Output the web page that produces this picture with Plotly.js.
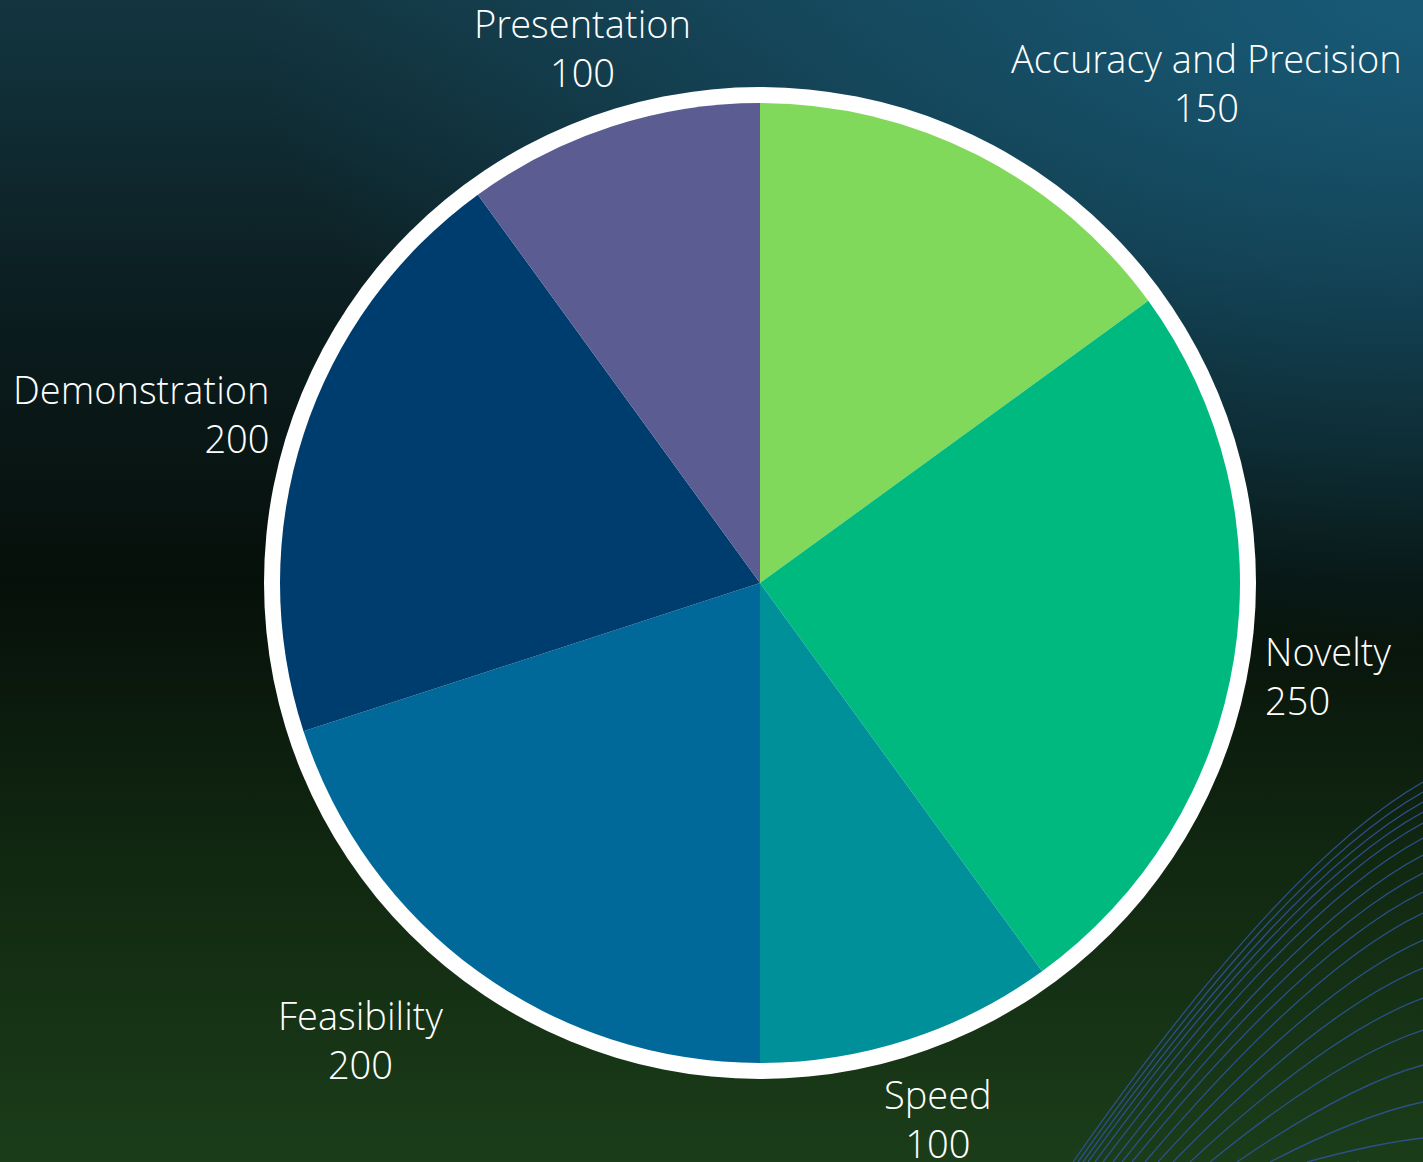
<!DOCTYPE html>
<html>
<head>
<meta charset="utf-8">
<script src="https://cdn.plot.ly/plotly-3.0.1.min.js"></script>
<style>
  html, body { margin: 0; padding: 0; width: 1423px; height: 1162px; overflow: hidden; }
  body {
    background:
      radial-gradient(ellipse 110% 75% at 100% 0%, rgba(24,92,122,0.95) 0%, rgba(24,92,122,0.55) 35%, rgba(24,92,122,0) 75%),
      linear-gradient(to bottom, #133540 0%, #0b1c1e 28%, #06100a 50%, #102610 72%, #1b3d19 100%);
  }
  #deco { position: absolute; left: 0; top: 0; width: 1423px; height: 1162px; }
  #chart { position: absolute; left: 0; top: 0; width: 1423px; height: 1162px; }
</style>
</head>
<body>
<svg id="deco" xmlns="http://www.w3.org/2000/svg"></svg>
<div id="chart"></div>
<script>
// Data
const categories = ["Accuracy and Precision", "Novelty", "Speed", "Feasibility", "Demonstration", "Presentation"];
const values = [150, 250, 100, 200, 200, 100];
const sliceColors = ["#80d95b", "#00b97f", "#00909a", "#00699a", "#003d6f", "#5a5c92"];

// Decorative arcs in the bottom-right corner (background ornament)
(function () {
  const svg = document.getElementById('deco');
  const W = 1423, H = 1162;
  const bottomX = [1073, 1078, 1083, 1088, 1095, 1103, 1113, 1122, 1132, 1145, 1158, 1173, 1190, 1210, 1237, 1270, 1307, 1357];
  const rightY = [782, 792, 802, 812, 823, 838, 855, 873, 892, 913, 940, 968, 998, 1030, 1065, 1102, 1138, 1175];
  for (let i = 0; i < bottomX.length; i++) {
    const xb = bottomX[i], yr = rightY[i];
    const cx = xb + 0.6 * (W - xb), cy = yr + 0.21 * (H - yr);
    const p = document.createElementNS('http://www.w3.org/2000/svg', 'path');
    p.setAttribute('d', `M ${xb} ${H} Q ${cx} ${cy} ${W} ${yr}`);
    p.setAttribute('fill', 'none');
    p.setAttribute('stroke', '#2d5290');
    p.setAttribute('stroke-width', '1.3');
    p.setAttribute('stroke-opacity', '0.95');
    svg.appendChild(p);
  }
})();

const W = 1423, H = 1162;
const cxPx = 760, cyPx = 583, rPx = 480, ringPx = 496;
const fontSize = 38;
const fontFamily = '"Open Sans Light", "Open Sans", sans-serif';

// Label placement: anchor point on the slice's mid-angle just outside the ring,
// text attached to it by the side facing the pie (8 compass sectors).
const anchorDist = 507;
const total = values.reduce((a, b) => a + b, 0);
const xAnch = ['center', 'left', 'left', 'left', 'center', 'right', 'right', 'right'];
const yAnch = ['bottom', 'bottom', 'middle', 'top', 'top', 'top', 'middle', 'bottom'];
const lineAlign = ['center', 'center', 'left', 'center', 'center', 'center', 'right', 'center'];
let cum = 0;
const annotations = categories.map((cat, i) => {
  const mid = (cum + values[i] / 2) / total * 2 * Math.PI;
  cum += values[i];
  const sector = Math.round(mid / (Math.PI / 4)) % 8;
  const s = Math.sin(mid), c = Math.cos(mid);
  const X = anchorDist * s + Math.sign(s) * 22 * Math.abs(c);
  const Y = -anchorDist * c + 14 * s * Math.abs(s);
  return {
    xref: 'paper', yref: 'paper',
    x: (cxPx + X) / W, y: 1 - (cyPx + Y) / H,
    xanchor: xAnch[sector], yanchor: yAnch[sector],
    text: cat + '<br>' + values[i],
    align: lineAlign[sector],
    showarrow: false,
    borderpad: 0,
    font: { family: fontFamily, size: fontSize, color: '#ffffff', weight: 300 }
  };
});

const trace = {
  type: 'pie',
  labels: categories,
  values: values,
  sort: false,
  direction: 'clockwise',
  rotation: 0,
  textinfo: 'none',
  marker: { colors: sliceColors, line: { width: 0 } },
  domain: {
    x: [(cxPx - rPx) / W, (cxPx + rPx) / W],
    y: [(H - cyPx - rPx) / H, (H - cyPx + rPx) / H]
  },
  hoverinfo: 'label+value+percent'
};

const layout = {
  width: W,
  height: H,
  margin: { l: 0, r: 0, t: 0, b: 0, pad: 0 },
  paper_bgcolor: 'rgba(0,0,0,0)',
  plot_bgcolor: 'rgba(0,0,0,0)',
  showlegend: false,
  font: { family: fontFamily, color: '#ffffff', weight: 300 },
  annotations: annotations,
  shapes: [{
    type: 'circle', xref: 'paper', yref: 'paper', layer: 'below',
    x0: (cxPx - ringPx) / W, x1: (cxPx + ringPx) / W,
    y0: (H - cyPx - ringPx) / H, y1: (H - cyPx + ringPx) / H,
    fillcolor: '#ffffff', line: { width: 0 }
  }]
};

Plotly.newPlot('chart', [trace], layout, { displayModeBar: false, staticPlot: true });
</script>
</body>
</html>
